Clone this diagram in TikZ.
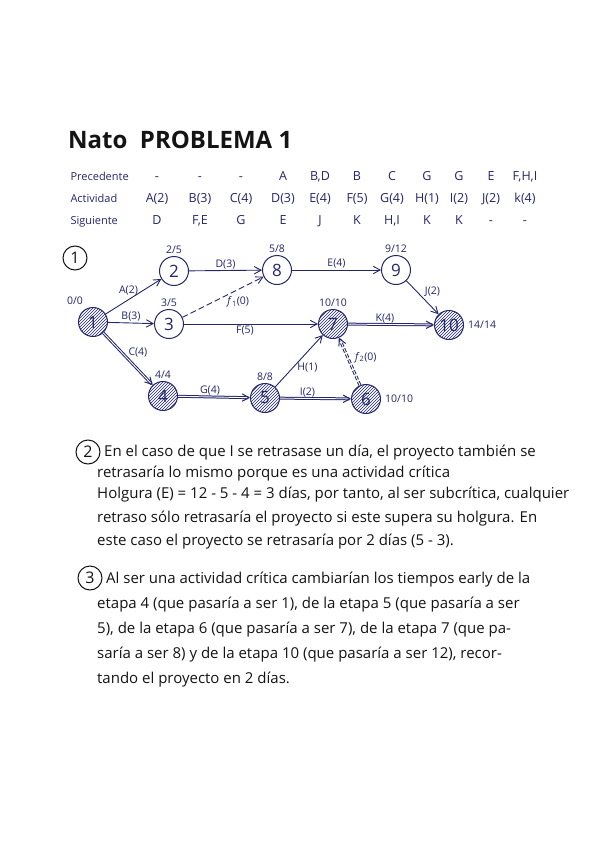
\documentclass[tikz,border=0pt]{standalone}
\usepackage{fontspec}
\setmainfont{Open Sans}
\usetikzlibrary{arrows.meta,positioning,calc,patterns}
\definecolor{ink}{RGB}{36,38,108}
\definecolor{pen}{RGB}{20,20,20}

\begin{document}
\begin{tikzpicture}[x=1pt,y=-1pt,font=\fontsize{10}{12}\selectfont,
  ev/.style={circle,draw=ink,line width=1pt,fill=white,minimum size=29pt,inner sep=0,text=ink,font=\fontsize{17}{17}\selectfont},
  crit/.style={ev,pattern=north east lines,pattern color=ink},
  tag/.style={text=ink,font=\fontsize{10.5}{12}\selectfont,inner sep=1pt},
  act/.style={draw=ink,line width=0.9pt,-{Straight Barb[length=2.4mm,width=2.6mm]}},
  cact/.style={act,double=white,double distance=0.9pt,line width=1pt},
  dum/.style={act,dashed,dash pattern=on 6pt off 3pt},
  num/.style={circle,draw=pen,line width=1pt,minimum size=24pt,inner sep=0,text=pen,font=\fontsize{16}{16}\selectfont},
  rowlbl/.style={anchor=base west,text=ink,font=\fontsize{11}{13}\selectfont},
  cell/.style={anchor=base,text=ink,font=\fontsize{12.5}{14}\selectfont},
  txt/.style={anchor=base west,text=pen,inner sep=0,font=\fontsize{15}{17}\selectfont}]

\fill[white] (0,0) rectangle (599,848);
\useasboundingbox (0,0) rectangle (599,848);

%% title
\node[anchor=base west,text=pen,inner sep=0,font=\fontsize{24}{26}\selectfont\bfseries] (title) at (68,149) {Nato \ PROBLEMA 1};

%% table of activities
\foreach \lbl/\y in {Precedente/180, Actividad/202, Siguiente/224}
  \node[rowlbl] (r\lbl) at (67,\y) {\lbl};
\foreach \x/\p/\a/\s [count=\i] in {157/-/A(2)/D, 200/-/B(3)/F{,}E, 241/-/C(4)/G, 283/A/D(3)/E,
    320/B{,}D/E(4)/J, 357/B/F(5)/K, 392/C/G(4)/H{,}I, 427/G/H(1)/K, 459/G/I(2)/K, 491/E/J(2)/-, 525/F{,}H{,}I/k(4)/-}{
  \node[cell] (p\i) at (\x,180) {\p};
  \node[cell] (a\i) at (\x,202) {\a};
  \node[cell] (s\i) at (\x,224) {\s};
}

%% part 1: the network
\node[num] (q1) at (75,258) {1};

\node[crit] (n1) at (93,322) {1};
\node[ev] (n2) at (174,271) {2};
\node[ev] (n3) at (169,324) {3};
\node[crit] (n4) at (163,396) {4};
\node[crit] (n5) at (265,398) {5};
\node[crit] (n6) at (366,399) {6};
\node[crit] (n7) at (333,324) {7};
\node[ev] (n8) at (277,270) {8};
\node[ev] (n9) at (396,270) {9};
\node[crit] (n10) at (449,325) {10};

%% early / late times
\node[tag,above=1pt of n1,xshift=-18pt] {0/0};
\node[tag,above=1pt of n2] {2/5};
\node[tag,above=1pt of n3] {3/5};
\node[tag,above=1pt of n8] {5/8};
\node[tag,above=1pt of n9] {9/12};
\node[tag,above=1pt of n7] {10/10};
\node[tag,above=1pt of n4] {4/4};
\node[tag,above=1pt of n5] {8/8};
\node[tag,right=3pt of n10] {14/14};
\node[tag,right=3pt of n6] {10/10};

%% activities (critical ones doubled)
\draw[act] (n1) -- node[tag,above,xshift=-5pt] {A(2)} (n2);
\draw[act] (n1) -- node[tag,above] {B(3)} (n3);
\draw[cact] (n1) -- node[tag,above right,xshift=-1pt] {C(4)} (n4);
\draw[act] (n2) -- node[tag,above] {D(3)} (n8);
\draw[dum] (n3) -- node[tag,below right,xshift=3pt,yshift=2pt] {\textit{f}\textsubscript{1}(0)} (n8);
\draw[act] (n3) -- node[tag,below,xshift=-6pt,yshift=-1pt] {F(5)} (n7);
\draw[act] (n8) -- node[tag,above] {E(4)} (n9);
\draw[act] (n9) -- node[tag,above right,xshift=1pt] {J(2)} (n10);
\draw[cact] (n7) -- node[tag,above,xshift=-6pt] {K(4)} (n10);
\draw[cact] (n4) -- node[tag,above,xshift=-4pt] {G(4)} (n5);
\draw[act] (n5) -- node[tag,anchor=north west,xshift=-3pt,yshift=-1pt] {H(1)} (n7);
\draw[cact] (n5) -- node[tag,above,xshift=-8pt] {I(2)} (n6);
\draw[cact,dashed,dash pattern=on 4pt off 2pt] (n6) -- node[tag,right,xshift=4pt,yshift=4pt] {\textit{f}\textsubscript{2}(0)} (n7);

%% part 2
\node[num] (q2) at (88,452) {2};
\node[txt] (l21) at (104,456) {En el caso de que I se retrasase un día, el proyecto también se};
\node[txt] (l22) at (97,477) {retrasaría lo mismo porque es una actividad crítica};
\node[txt] (l23) at (97,498) {Holgura (E) = 12 - 5 - 4 = 3 días, por tanto, al ser subcrítica, cualquier};
\node[txt] (l24) at (97,522) {retraso sólo retrasaría el proyecto si este supera su holgura. En};
\node[txt] (l25) at (97,545) {este caso el proyecto se retrasaría por 2 días (5 - 3).};

%% part 3
\node[num] (q3) at (90,578) {3};
\node[txt] (l31) at (106,583) {Al ser una actividad crítica cambiarían los tiempos early de la};
\node[txt] (l32) at (97,608) {etapa 4 (que pasaría a ser 1), de la etapa 5 (que pasaría a ser};
\node[txt] (l33) at (97,633) {5), de la etapa 6 (que pasaría a ser 7), de la etapa 7 (que pa-};
\node[txt] (l34) at (97,658) {saría a ser 8) y de la etapa 10 (que pasaría a ser 12), recor-};
\node[txt] (l35) at (97,683) {tando el proyecto en 2 días.};
\end{tikzpicture}
\end{document}
